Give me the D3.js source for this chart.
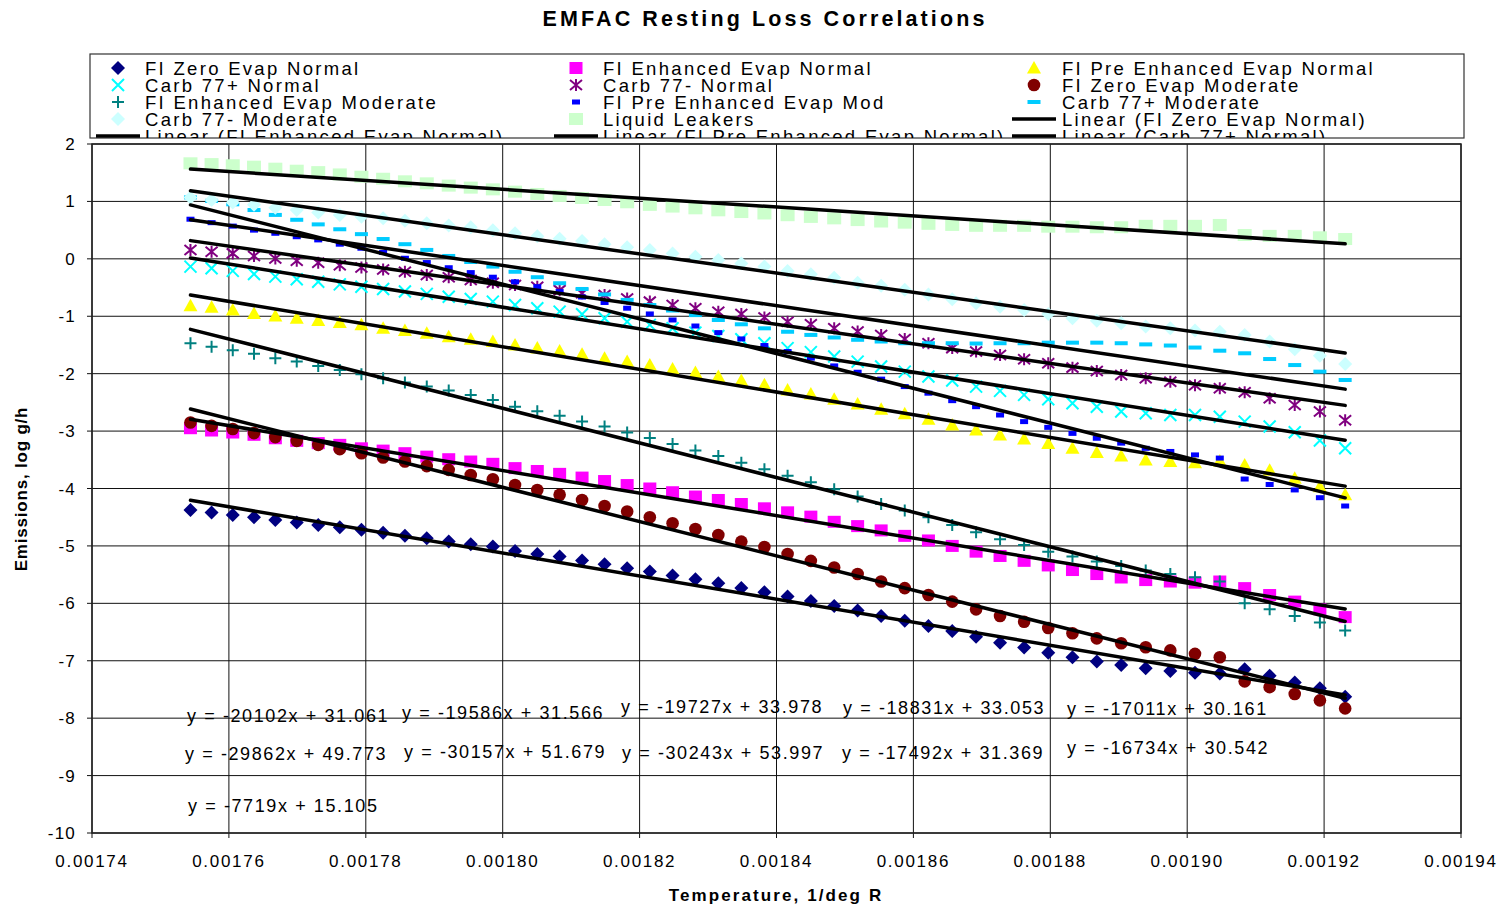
<!DOCTYPE html>
<html>
<head>
<meta charset="utf-8">
<title>EMFAC Resting Loss Correlations</title>
<script src="https://cdn.jsdelivr.net/npm/d3@7"></script>
<style>
  body { margin: 0; background: #fff; }
  svg text { font-family: "Liberation Sans", Arial, sans-serif; fill: #000; }
</style>
</head>
<body>
<svg id="chart" width="1509" height="908"></svg>
<script>
// temperatures (deg F), left to right on the chart; x = 1/(F + 460) in 1/deg R
var tempsF = [110, 109, 108, 107, 106, 105, 104, 103, 102, 101, 100, 99, 98, 97, 96, 95, 94, 93, 92, 91,
  90, 89, 88, 87, 86, 85, 84, 83, 82, 81, 80, 79, 78, 77, 76, 75, 74, 73, 72, 71,
  70, 69, 68, 67, 66, 65, 64, 63, 62, 61, 60];

// log g/h, one value per temperature
var fiZeroEvapNormal = [-4.375, -4.42, -4.46, -4.50, -4.55, -4.59, -4.635, -4.675, -4.72, -4.77, -4.825, -4.865, -4.925, -4.97, -5.01,
  -5.09, -5.14, -5.185, -5.255, -5.32, -5.39, -5.445, -5.515, -5.58, -5.65, -5.735, -5.805, -5.88, -5.96, -6.045,
  -6.125, -6.22, -6.305, -6.395, -6.48, -6.58, -6.685, -6.77, -6.86, -6.94, -7.015, -7.075, -7.13, -7.18, -7.21,
  -7.22, -7.15, -7.26, -7.38, -7.48, -7.625];
var fiEnhancedEvapNormal = [-2.95, -2.99, -3.025, -3.065, -3.125, -3.17, -3.21, -3.24, -3.30, -3.34, -3.385, -3.445, -3.49, -3.53, -3.57,
  -3.645, -3.695, -3.745, -3.81, -3.87, -3.94, -4.0, -4.065, -4.14, -4.20, -4.27, -4.345, -4.415, -4.49, -4.58,
  -4.655, -4.73, -4.825, -4.905, -5.0, -5.10, -5.175, -5.26, -5.34, -5.42, -5.49, -5.55, -5.595, -5.62, -5.64,
  -5.62, -5.735, -5.855, -5.97, -6.105, -6.24];
var fiPreEnhancedEvapNormal = [-0.815, -0.845, -0.89, -0.95, -0.995, -1.035, -1.075, -1.11, -1.15, -1.21, -1.25, -1.295, -1.355, -1.40, -1.44,
  -1.50, -1.555, -1.605, -1.66, -1.73, -1.79, -1.85, -1.92, -1.98, -2.05, -2.12, -2.195, -2.285, -2.355, -2.445,
  -2.53, -2.62, -2.70, -2.795, -2.895, -2.98, -3.07, -3.14, -3.215, -3.30, -3.375, -3.435, -3.505, -3.53, -3.55,
  -3.52, -3.59, -3.68, -3.82, -3.97, -4.11];
var carb77pNormal = [-0.135, -0.165, -0.21, -0.265, -0.31, -0.355, -0.40, -0.445, -0.485, -0.525, -0.57, -0.61, -0.66, -0.70, -0.745,
  -0.805, -0.86, -0.92, -0.965, -1.035, -1.095, -1.15, -1.21, -1.285, -1.345, -1.40, -1.47, -1.555, -1.625, -1.70,
  -1.79, -1.875, -1.965, -2.05, -2.12, -2.225, -2.30, -2.37, -2.445, -2.515, -2.575, -2.66, -2.69, -2.72, -2.72,
  -2.75, -2.835, -2.92, -3.02, -3.165, -3.30];
var carb77mNormal = [0.155, 0.125, 0.095, 0.05, 0.005, -0.035, -0.07, -0.11, -0.15, -0.185, -0.225, -0.28, -0.32, -0.37, -0.415,
  -0.455, -0.485, -0.545, -0.60, -0.63, -0.69, -0.745, -0.805, -0.86, -0.92, -0.96, -1.02, -1.095, -1.14, -1.21,
  -1.265, -1.325, -1.395, -1.47, -1.555, -1.615, -1.675, -1.75, -1.82, -1.895, -1.955, -2.025, -2.08, -2.14, -2.20,
  -2.255, -2.325, -2.43, -2.545, -2.66, -2.81];
var fiZeroEvapModerate = [-2.85, -2.91, -2.965, -3.035, -3.105, -3.17, -3.24, -3.315, -3.385, -3.46, -3.53, -3.61, -3.675, -3.765, -3.84,
  -3.94, -4.025, -4.11, -4.20, -4.305, -4.40, -4.50, -4.605, -4.705, -4.81, -4.925, -5.02, -5.14, -5.26, -5.375,
  -5.49, -5.62, -5.735, -5.855, -5.97, -6.105, -6.22, -6.32, -6.43, -6.52, -6.61, -6.695, -6.765, -6.82, -6.88,
  -6.94, -7.36, -7.46, -7.58, -7.69, -7.83];
var fiEnhancedEvapModerate = [-1.47, -1.53, -1.59, -1.655, -1.73, -1.79, -1.865, -1.935, -2.01, -2.08, -2.155, -2.225, -2.295, -2.37, -2.46,
  -2.575, -2.655, -2.735, -2.835, -2.92, -3.025, -3.12, -3.225, -3.34, -3.435, -3.55, -3.665, -3.78, -3.89, -4.015,
  -4.14, -4.27, -4.385, -4.50, -4.635, -4.76, -4.885, -4.985, -5.10, -5.185, -5.27, -5.35, -5.43, -5.49, -5.545,
  -5.62, -6.0, -6.105, -6.22, -6.335, -6.475];
var fiPreEnhancedEvapMod = [0.69, 0.63, 0.57, 0.50, 0.445, 0.385, 0.33, 0.255, 0.185, 0.11, 0.01, -0.065, -0.155, -0.24, -0.32,
  -0.40, -0.485, -0.57, -0.665, -0.76, -0.86, -0.96, -1.065, -1.17, -1.285, -1.395, -1.51, -1.615, -1.73, -1.865,
  -1.975, -2.095, -2.225, -2.34, -2.47, -2.575, -2.72, -2.835, -2.935, -3.04, -3.125, -3.21, -3.30, -3.355, -3.415,
  -3.47, -3.835, -3.93, -4.025, -4.16, -4.305];
var carb77pModerate = [1.07, 1.01, 0.95, 0.85, 0.765, 0.68, 0.60, 0.515, 0.43, 0.345, 0.255, 0.155, 0.05, -0.055, -0.135,
  -0.225, -0.32, -0.425, -0.525, -0.62, -0.715, -0.805, -0.90, -0.98, -1.065, -1.14, -1.21, -1.27, -1.325, -1.37,
  -1.41, -1.44, -1.47, -1.47, -1.47, -1.475, -1.47, -1.47, -1.46, -1.46, -1.46, -1.47, -1.49, -1.51, -1.545,
  -1.60, -1.645, -1.745, -1.85, -1.965, -2.11];
var carb77mModerate = [1.07, 1.025, 0.98, 0.94, 0.89, 0.85, 0.805, 0.765, 0.735, 0.705, 0.665, 0.62, 0.58, 0.55, 0.50,
  0.445, 0.395, 0.35, 0.31, 0.255, 0.20, 0.155, 0.095, 0.037, -0.02, -0.08, -0.135, -0.21, -0.27, -0.33,
  -0.415, -0.47, -0.54, -0.62, -0.705, -0.775, -0.835, -0.89, -0.96, -1.035, -1.08, -1.12, -1.18, -1.21, -1.25,
  -1.27, -1.325, -1.44, -1.575, -1.69, -1.83];
var liquidLeakers = [1.664, 1.65, 1.63, 1.605, 1.57, 1.535, 1.51, 1.47, 1.43, 1.395, 1.35, 1.315, 1.275, 1.24, 1.21,
  1.17, 1.13, 1.095, 1.06, 1.025, 0.985, 0.94, 0.91, 0.88, 0.845, 0.815, 0.79, 0.76, 0.73, 0.705,
  0.675, 0.65, 0.63, 0.61, 0.59, 0.575, 0.575, 0.575, 0.56, 0.56, 0.55, 0.55, 0.575, 0.575, 0.575,
  0.59, 0.415, 0.40, 0.40, 0.375, 0.345];

var seriesNames = ["FI Zero Evap Normal", "FI Enhanced Evap Normal", "FI Pre Enhanced Evap Normal",
  "Carb 77+ Normal", "Carb 77- Normal", "FI Zero Evap Moderate",
  "FI Enhanced Evap Moderate", "FI Pre Enhanced Evap Mod", "Carb 77+ Moderate",
  "Carb 77- Moderate", "Liquid Leakers"];
var seriesValues = [fiZeroEvapNormal, fiEnhancedEvapNormal, fiPreEnhancedEvapNormal,
  carb77pNormal, carb77mNormal, fiZeroEvapModerate,
  fiEnhancedEvapModerate, fiPreEnhancedEvapMod, carb77pModerate,
  carb77mModerate, liquidLeakers];

// linear trendlines as printed on the chart
var trendSlopes = [-20102, -19586, -19727, -18831, -17011, -29862, -30157, -30243, -17492, -16734, -7719];
var trendIntercepts = [31.061, 31.566, 33.978, 33.053, 30.161, 49.773, 51.679, 53.997, 31.369, 30.542, 15.105];

var xTicks = [0.00174, 0.00176, 0.00178, 0.00180, 0.00182, 0.00184, 0.00186, 0.00188, 0.00190, 0.00192, 0.00194];
var yTicks = [2, 1, 0, -1, -2, -3, -4, -5, -6, -7, -8, -9, -10];

// ---------- styles ----------
var seriesColors = ["#000080", "#FF00FF", "#FFFF00", "#00FFFF", "#800080", "#800000",
  "#008080", "#0000FF", "#00CCFF", "#CCFFFF", "#CCFFCC"];
var seriesMarkers = ["diamond", "square", "triangle", "cross", "star", "circle",
  "plus", "dashSmall", "dash", "diamond", "bigSquare"];
// where each equation label sits (pixels: left, baseline)
var eqLabelPos = [[187, 722], [402, 719], [621, 713], [843, 714], [1067, 715],
  [185, 760], [404, 758], [622, 759], [842, 759], [1067, 754],
  [188, 812]];

var svg = d3.select("#chart");
var plot = {left: 92, right: 1461, top: 144, bottom: 833};

var x = d3.scaleLinear().domain([0.00174, 0.00194]).range([plot.left, plot.right]);
var y = d3.scaleLinear().domain([-10, 2]).range([plot.bottom, plot.top]);

var xVals = tempsF.map(function(t) { return 1 / (t + 460); });

// draw one marker of a given type centred on cx, cy
function drawMarker(g, type, color, cx, cy) {
  switch (type) {
    case "diamond":
      g.append("path").attr("d", "M" + cx + "," + (cy - 7) + "L" + (cx + 7) + "," + cy + "L" + cx + "," + (cy + 7) + "L" + (cx - 7) + "," + cy + "Z")
        .attr("fill", color);
      break;
    case "square":
      g.append("rect").attr("x", cx - 6.5).attr("y", cy - 6).attr("width", 13).attr("height", 12).attr("fill", color);
      break;
    case "bigSquare":
      g.append("rect").attr("x", cx - 7).attr("y", cy - 6).attr("width", 14).attr("height", 12).attr("fill", color);
      break;
    case "triangle":
      g.append("path").attr("d", "M" + cx + "," + (cy - 7) + "L" + (cx + 7) + "," + (cy + 5.5) + "L" + (cx - 7) + "," + (cy + 5.5) + "Z")
        .attr("fill", color);
      break;
    case "circle":
      g.append("circle").attr("cx", cx).attr("cy", cy).attr("r", 6.3).attr("fill", color);
      break;
    case "cross":
      g.append("path").attr("d", "M" + (cx - 6) + "," + (cy - 6) + "L" + (cx + 6) + "," + (cy + 6) + "M" + (cx + 6) + "," + (cy - 6) + "L" + (cx - 6) + "," + (cy + 6))
        .attr("stroke", color).attr("stroke-width", 2).attr("fill", "none");
      break;
    case "plus":
      g.append("path").attr("d", "M" + (cx - 6) + "," + cy + "L" + (cx + 6) + "," + cy + "M" + cx + "," + (cy - 6) + "L" + cx + "," + (cy + 6))
        .attr("stroke", color).attr("stroke-width", 2).attr("fill", "none");
      break;
    case "star":
      g.append("path").attr("d", "M" + (cx - 6) + "," + (cy - 5) + "L" + (cx + 6) + "," + (cy + 5) + "M" + (cx + 6) + "," + (cy - 5) + "L" + (cx - 6) + "," + (cy + 5) +
          "M" + cx + "," + (cy - 6) + "L" + cx + "," + (cy + 6))
        .attr("stroke", color).attr("stroke-width", 2).attr("fill", "none");
      break;
    case "dashSmall":
      g.append("rect").attr("x", cx - 4).attr("y", cy - 2.5).attr("width", 8).attr("height", 5).attr("fill", color);
      break;
    case "dash":
      g.append("rect").attr("x", cx - 6.5).attr("y", cy - 2).attr("width", 13).attr("height", 4).attr("fill", color);
      break;
  }
}

// ---------- title ----------
svg.append("text").attr("x", 765).attr("y", 26).attr("text-anchor", "middle")
  .style("font-size", "21.5px").style("font-weight", "bold").style("letter-spacing", "3.1px")
  .text("EMFAC Resting Loss Correlations");

// ---------- grid + frame ----------
var grid = svg.append("g");
grid.selectAll("line.vg").data(xTicks).enter().append("line")
  .attr("x1", function(d) { return x(d); }).attr("x2", function(d) { return x(d); })
  .attr("y1", plot.top).attr("y2", plot.bottom + 5)
  .attr("stroke", "#111").attr("stroke-width", 1);
grid.selectAll("line.hg").data(yTicks).enter().append("line")
  .attr("x1", plot.left - 5).attr("x2", plot.right)
  .attr("y1", function(d) { return y(d); }).attr("y2", function(d) { return y(d); })
  .attr("stroke", "#111").attr("stroke-width", 1);
svg.append("rect").attr("x", plot.left).attr("y", plot.top)
  .attr("width", plot.right - plot.left).attr("height", plot.bottom - plot.top)
  .attr("fill", "none").attr("stroke", "#222").attr("stroke-width", 1.5);

// ---------- axis labels ----------
svg.selectAll("text.xt").data(xTicks).enter().append("text")
  .attr("x", function(d) { return x(d); }).attr("y", 867).attr("text-anchor", "middle")
  .style("font-size", "17px").style("letter-spacing", "1.7px")
  .text(function(d) { return d3.format(".5f")(d); });
svg.selectAll("text.yt").data(yTicks).enter().append("text")
  .attr("x", 76).attr("y", function(d) { return y(d) + 6; }).attr("text-anchor", "end")
  .style("font-size", "17px").style("letter-spacing", "1.2px")
  .text(function(d) { return d; });

svg.append("text").attr("x", 776).attr("y", 901).attr("text-anchor", "middle")
  .style("font-size", "17px").style("font-weight", "bold").style("letter-spacing", "2.1px")
  .text("Temperature, 1/deg R");
svg.append("text").attr("transform", "translate(27,489) rotate(-90)").attr("text-anchor", "middle")
  .style("font-size", "17px").style("font-weight", "bold").style("letter-spacing", "0.8px")
  .text("Emissions, log g/h");

// ---------- series markers ----------
var marks = svg.append("g");
seriesValues.forEach(function(vals, si) {
  var g = marks.append("g");
  vals.forEach(function(v, i) {
    drawMarker(g, seriesMarkers[si], seriesColors[si], x(xVals[i]), y(v));
  });
});

// ---------- trendlines ----------
var x0 = xVals[0], x1 = xVals[xVals.length - 1];
svg.append("g").selectAll("line").data(trendSlopes).enter().append("line")
  .attr("x1", x(x0)).attr("x2", x(x1))
  .attr("y1", function(m, i) { return y(m * x0 + trendIntercepts[i]); })
  .attr("y2", function(m, i) { return y(m * x1 + trendIntercepts[i]); })
  .attr("stroke", "#000").attr("stroke-width", 3.5).attr("stroke-linecap", "round");

// ---------- equation labels ----------
svg.append("g").selectAll("text").data(trendSlopes).enter().append("text")
  .attr("x", function(m, i) { return eqLabelPos[i][0]; })
  .attr("y", function(m, i) { return eqLabelPos[i][1]; })
  .style("font-size", "18px").style("letter-spacing", "1.6px")
  .text(function(m, i) { return "y = " + m + "x + " + d3.format(".3f")(trendIntercepts[i]); });

// ---------- legend ----------
var legendBox = {x: 90, y: 54, w: 1374, h: 84};
svg.append("clipPath").attr("id", "legClip").append("rect")
  .attr("x", legendBox.x).attr("y", legendBox.y).attr("width", legendBox.w).attr("height", legendBox.h);
svg.append("rect").attr("x", legendBox.x).attr("y", legendBox.y).attr("width", legendBox.w).attr("height", legendBox.h)
  .attr("fill", "#fff").attr("stroke", "#333").attr("stroke-width", 1.2);

var legendItems = seriesNames.map(function(n, i) { return {name: n, marker: seriesMarkers[i], color: seriesColors[i]}; })
  .concat(["FI Zero Evap Normal", "FI Enhanced Evap Normal", "FI Pre Enhanced Evap Normal", "Carb 77+ Normal"]
    .map(function(n) { return {name: "Linear (" + n + ")", marker: "line", color: "#000"}; }));

var legCols = [{mx: 118, tx: 145}, {mx: 576, tx: 603}, {mx: 1034, tx: 1062}];
var leg = svg.append("g").attr("clip-path", "url(#legClip)");
legendItems.forEach(function(it, i) {
  var col = legCols[i % 3], row = Math.floor(i / 3);
  var cy = 68 + row * 17;
  if (it.marker === "line") {
    leg.append("line").attr("x1", col.mx - 22).attr("x2", col.mx + 22).attr("y1", cy).attr("y2", cy)
      .attr("stroke", "#000").attr("stroke-width", 3.5);
  } else {
    drawMarker(leg, it.marker, it.color, col.mx, cy);
  }
  leg.append("text").attr("x", col.tx).attr("y", cy + 7)
    .style("font-size", "18.5px").style("letter-spacing", "2.3px")
    .text(it.name);
});
</script>
</body>
</html>
